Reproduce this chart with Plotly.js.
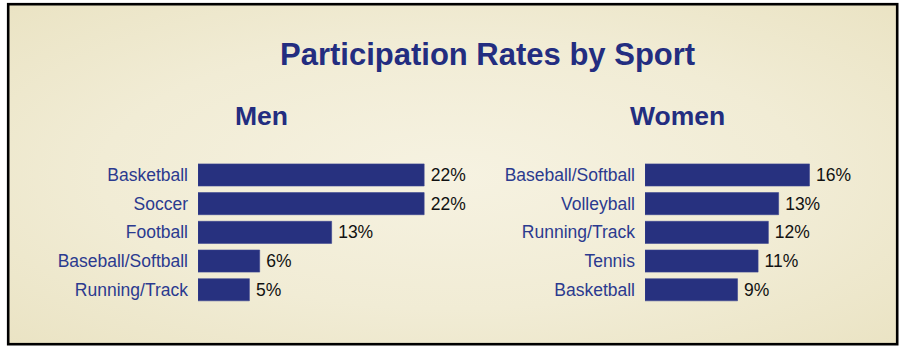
<!DOCTYPE html>
<html>
<head>
<meta charset="utf-8">
<script src="https://cdn.plot.ly/plotly-3.0.1.min.js"></script>
<style>html,body{margin:0;padding:0;background:#fff;}#chart{width:901px;height:351px;}</style>
</head>
<body>
<div id="chart"></div>
<script>
const menSports = ["Basketball", "Soccer", "Football", "Baseball/Softball", "Running/Track"];
const menValues = [22, 22, 13, 6, 5];
const womenSports = ["Baseball/Softball", "Volleyball", "Running/Track", "Tennis", "Basketball"];
const womenValues = [16, 13, 12, 11, 9];
const chartTitle = "Participation Rates by Sport";
const panelTitles = ["Men", "Women"];

const W = 901, H = 351;
const navy = "#27317f";
const labelNavy = "#2b3a8f";
const font = "Liberation Sans, Arial, sans-serif";

const bg = '<svg xmlns="http://www.w3.org/2000/svg" width="901" height="351" viewBox="0 0 901 351">' +
  '<defs><radialGradient id="g" cx="0.5" cy="0.5" r="0.72"><stop offset="0" stop-color="#f6f2e1"/><stop offset="0.55" stop-color="#f1ecd5"/><stop offset="1" stop-color="#eae3c3"/></radialGradient></defs>' +
  '<rect x="0" y="0" width="901" height="351" fill="#ffffff"/>' +
  '<rect x="8.2" y="4.2" width="889" height="340" fill="url(#g)" stroke="#000" stroke-width="2.6"/></svg>';
const bgUri = "data:image/svg+xml;charset=utf-8," + encodeURIComponent(bg);

function bars(y, x, xa, ya) {
  return {
    type: "bar", orientation: "h", y: y, x: x, xaxis: xa, yaxis: ya,
    marker: {color: navy, line: {color: "#3a4590", width: 0.6}},
    width: 0.77,
    text: x.map(v => "\u2009" + v + "%"), textposition: "outside", cliponaxis: false,
    textfont: {family: font, size: 17.5, color: "#111"},
    hoverinfo: "skip"
  };
}

const yTop = 160.6, yBot = 304.1;
const yDom = [(H - yBot) / H, (H - yTop) / H];
const pxPer = 10.28;

const yAxisBase = {
  domain: yDom, autorange: "reversed", type: "category",
  showgrid: false, zeroline: false, showline: false, ticks: "",
  ticklabelstandoff: 9,
  tickfont: {family: font, size: 17.5, color: labelNavy}
};
const xAxisBase = {showgrid: false, zeroline: false, showline: false, showticklabels: false, fixedrange: true};

const layout = {
  width: W, height: H,
  margin: {l: 0, r: 0, t: 0, b: 0},
  paper_bgcolor: "rgba(0,0,0,0)", plot_bgcolor: "rgba(0,0,0,0)",
  showlegend: false,
  bargap: 0.23,
  images: [{source: bgUri, xref: "paper", yref: "paper", x: 0, y: 1, sizex: 1, sizey: 1,
            sizing: "stretch", xanchor: "left", yanchor: "top", layer: "below"}],
  xaxis: Object.assign({}, xAxisBase, {domain: [198 / W, (198 + 25 * pxPer) / W], range: [0, 25], anchor: "y"}),
  yaxis: Object.assign({}, yAxisBase, {anchor: "x"}),
  xaxis2: Object.assign({}, xAxisBase, {domain: [645 / W, (645 + 24 * pxPer) / W], range: [0, 24], anchor: "y2"}),
  yaxis2: Object.assign({}, yAxisBase, {anchor: "x2"}),
  annotations: [
    {text: "<b>" + chartTitle + "</b>", xref: "paper", yref: "paper", x: 487 / W, y: 1 - 55 / H,
     xanchor: "center", yanchor: "middle", showarrow: false,
     font: {family: font, size: 31, color: "#232d80"}},
    {text: "<b>" + panelTitles[0] + "</b>", xref: "paper", yref: "paper", x: 261 / W, y: 1 - 116 / H,
     xanchor: "center", yanchor: "middle", showarrow: false,
     font: {family: font, size: 26.5, color: "#232d80"}},
    {text: "<b>" + panelTitles[1] + "</b>", xref: "paper", yref: "paper", x: 677 / W, y: 1 - 116 / H,
     xanchor: "center", yanchor: "middle", showarrow: false,
     font: {family: font, size: 26.5, color: "#232d80"}}
  ]
};

Plotly.newPlot("chart", [bars(menSports, menValues, "x", "y"), bars(womenSports, womenValues, "x2", "y2")], layout,
  {displayModeBar: false, staticPlot: true});
</script>
</body>
</html>
